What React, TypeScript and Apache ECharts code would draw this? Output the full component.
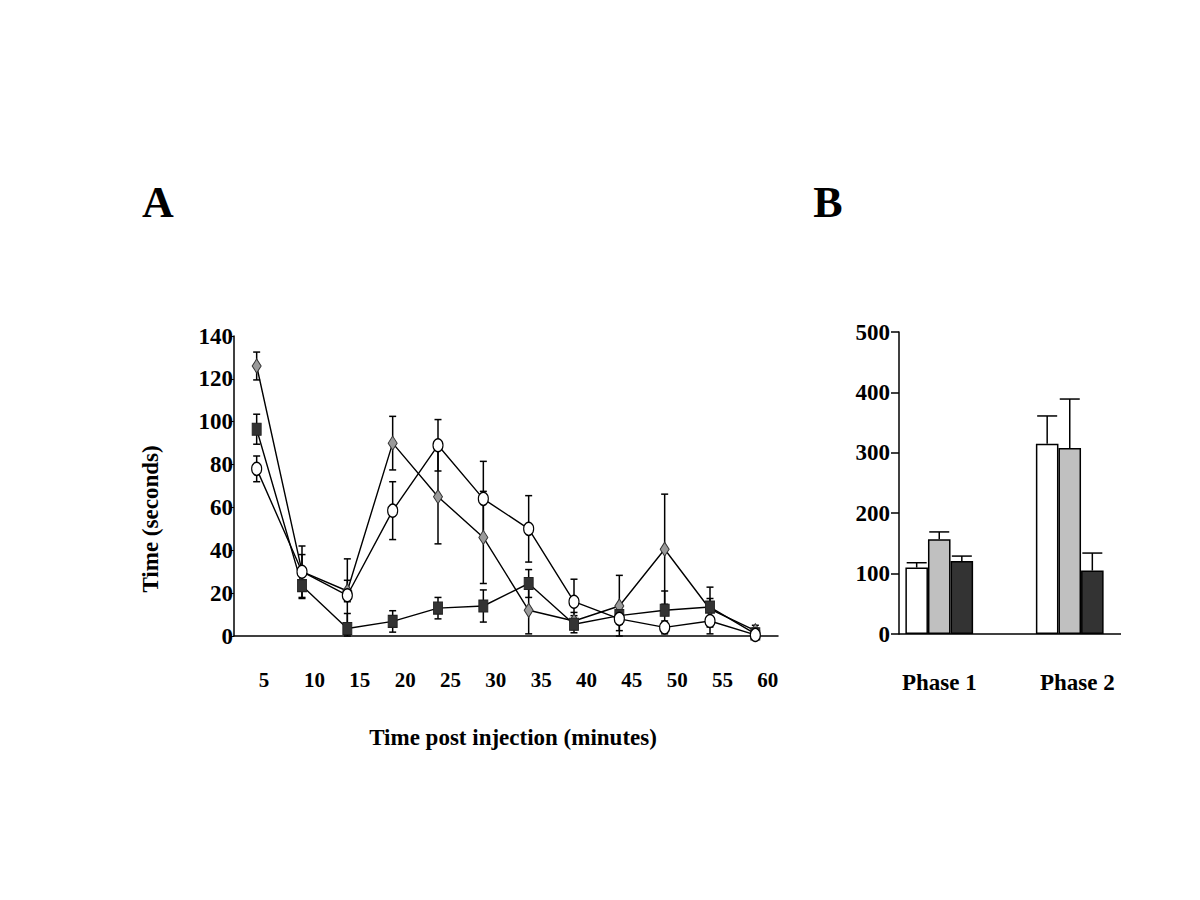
import React, { useEffect, useRef } from "react";
import * as echarts from "echarts";

// ---------- Panel A data ----------
const timePoints = ["5", "10", "15", "20", "25", "30", "35", "40", "45", "50", "55", "60"];
const circleMean = [78, 30, 19, 58.5, 89, 64, 50, 16, 8, 4, 7, 0.5];
const circleErr = [6, 12, 17, 13.5, 12, 17.5, 15.5, 10.5, 5.5, 3, 6, 1];
const diamondMean = [126, 30, 21, 90, 65, 46, 12, 7, 14, 40.5, 12.5, 2.5];
const diamondErr = [6.5, 8, 5, 12.5, 22, 21.5, 11, 4, 14.3, 25.7, 5, 2.5];
const squareMean = [96.5, 23.5, 3.5, 6.8, 13, 14, 24.5, 5.5, 9.5, 12, 13.5, 1];
const squareErr = [7, 6, 7, 5, 5, 7.5, 6.5, 4, 4, 9, 9.3, 1];
const yTicksA = { min: 0, max: 140, interval: 20 };

// ---------- Panel B data ----------
const phases = ["Phase 1", "Phase 2"];
const whiteMean = [110, 315];
const whiteErr = [8, 46];
const greyMean = [157, 308];
const greyErr = [12, 81];
const blackMean = [121, 105];
const blackErr = [8, 29];
const yTicksB = { min: 0, max: 500, interval: 100 };

const FONT = "Liberation Serif";
const BAR_FRAC = 0.173;

function errorBarsA(name: string, mean: number[], err: number[]) {
  return {
    type: "custom",
    name: name + " SEM",
    xAxisIndex: 0,
    yAxisIndex: 0,
    z: 1,
    silent: true,
    encode: { x: 0, y: 1 },
    data: timePoints.map((_, i) => [i, mean[i], err[i]]),
    renderItem: (params: any, api: any) => {
      const x = api.value(0);
      const m = api.value(1);
      const e = api.value(2);
      const top = api.coord([x, m + e]);
      const bot = api.coord([x, Math.max(0, m - e)]);
      const hw = 3.5;
      const st = { stroke: "#000", lineWidth: 1.5 };
      return {
        type: "group",
        children: [
          { type: "line", shape: { x1: top[0], y1: top[1], x2: bot[0], y2: bot[1] }, style: st },
          { type: "line", shape: { x1: top[0] - hw, y1: top[1], x2: top[0] + hw, y2: top[1] }, style: st },
          { type: "line", shape: { x1: bot[0] - hw, y1: bot[1], x2: bot[0] + hw, y2: bot[1] }, style: st },
        ],
      };
    },
  };
}

function errorBarsB(name: string, mean: number[], err: number[], k: number) {
  return {
    type: "custom",
    name: name + " SEM",
    xAxisIndex: 1,
    yAxisIndex: 1,
    z: 1,
    silent: true,
    encode: { x: 0, y: 1 },
    data: phases.map((_, i) => [i, mean[i], err[i]]),
    renderItem: (params: any, api: any) => {
      const x = api.value(0);
      const m = api.value(1);
      const e = api.value(2);
      const band = api.size([1, 0])[0];
      const off = (k - 1) * band * BAR_FRAC;
      const top = api.coord([x, m + e]);
      const base = api.coord([x, m]);
      const hw = 10;
      const st = { stroke: "#000", lineWidth: 1.5 };
      const cx = top[0] + off;
      return {
        type: "group",
        children: [
          { type: "line", shape: { x1: cx, y1: top[1], x2: cx, y2: base[1] }, style: st },
          { type: "line", shape: { x1: cx - hw, y1: top[1], x2: cx + hw, y2: top[1] }, style: st },
        ],
      };
    },
  };
}

export default function App() {
  const ref = useRef<HTMLDivElement>(null);

  useEffect(() => {
    if (!ref.current) return;
    const chart = echarts.init(ref.current, null, { renderer: "svg" });
    const labelFont = { fontFamily: FONT, fontWeight: "bold", color: "#000" };
    const lineStyle = { color: "#000", width: 1.4 };

    const option: any = {
      animation: false,
      backgroundColor: "#fff",
      grid: [
        { left: 234, top: 336, width: 544, height: 300 },
        { left: 874, top: 332, width: 261, height: 302 },
      ],
      xAxis: [
        {
          type: "category",
          gridIndex: 0,
          data: timePoints,
          boundaryGap: true,
          axisLine: { lineStyle: { color: "#000", width: 1.5 } },
          axisTick: { alignWithLabel: true, length: 5, lineStyle: { color: "#000", width: 1.2 } },
          axisLabel: { ...labelFont, fontSize: 21, interval: 0, margin: 33, align: "left", padding: [0, 0, 0, 2] },
        },
        {
          type: "category",
          gridIndex: 1,
          data: phases,
          axisLine: { show: false },
          axisTick: { show: false },
          axisLabel: {
            ...labelFont,
            fontSize: 23,
            margin: 37,
            interval: 0,
            hideOverlap: false,
            formatter: (v: string, i: number) => (i === 1 ? "{b|" + v + "}" : "{a|" + v + "}"),
            rich: {
              a: { ...labelFont, fontSize: 23 },
              b: { ...labelFont, fontSize: 23, padding: [0, 0, 0, 15] },
            },
          },
        },
      ],
      yAxis: [
        {
          type: "value",
          gridIndex: 0,
          ...yTicksA,
          splitLine: { show: false },
          axisLine: { show: true, lineStyle: { color: "#000", width: 1.5 } },
          axisTick: { show: true, length: 4, lineStyle: { color: "#000" } },
          axisLabel: { ...labelFont, fontSize: 23, margin: 1 },
        },
        {
          type: "value",
          gridIndex: 1,
          offset: -25,
          ...yTicksB,
          splitLine: { show: false },
          axisLine: { show: true, lineStyle: { color: "#000", width: 1.5 } },
          axisTick: { show: true, length: 8, lineStyle: { color: "#000", width: 1.5 } },
          axisLabel: { ...labelFont, fontSize: 23, margin: 9 },
        },
      ],
      series: [
        errorBarsA("Diamond", diamondMean, diamondErr),
        errorBarsA("Square", squareMean, squareErr),
        errorBarsA("Circle", circleMean, circleErr),
        {
          type: "line",
          name: "Diamond",
          xAxisIndex: 0,
          yAxisIndex: 0,
          z: 3,
          data: diamondMean,
          symbol: "diamond",
          symbolSize: [9, 14],
          lineStyle,
          itemStyle: { color: "#9a9a9a", borderColor: "#333", borderWidth: 1 },
        },
        {
          type: "line",
          name: "Square",
          xAxisIndex: 0,
          yAxisIndex: 0,
          z: 4,
          data: squareMean,
          symbol: "rect",
          symbolSize: [9, 12],
          lineStyle,
          itemStyle: { color: "#333", borderColor: "#222", borderWidth: 1 },
        },
        {
          type: "line",
          name: "Circle",
          xAxisIndex: 0,
          yAxisIndex: 0,
          z: 5,
          data: circleMean,
          symbol: "circle",
          symbolSize: [10, 13],
          lineStyle,
          itemStyle: { color: "#fff", borderColor: "#000", borderWidth: 1.3 },
        },
        {
          type: "bar",
          name: "White",
          xAxisIndex: 1,
          yAxisIndex: 1,
          z: 2,
          data: whiteMean,
          barWidth: BAR_FRAC * 100 + "%",
          barGap: "0%",
          itemStyle: { color: "#fff", borderColor: "#000", borderWidth: 1.5 },
        },
        {
          type: "bar",
          name: "Grey",
          xAxisIndex: 1,
          yAxisIndex: 1,
          z: 2,
          data: greyMean,
          barWidth: BAR_FRAC * 100 + "%",
          barGap: "0%",
          itemStyle: { color: "#c0c0c0", borderColor: "#000", borderWidth: 1.5 },
        },
        {
          type: "bar",
          name: "Black",
          xAxisIndex: 1,
          yAxisIndex: 1,
          z: 2,
          data: blackMean,
          barWidth: BAR_FRAC * 100 + "%",
          barGap: "0%",
          itemStyle: { color: "#333", borderColor: "#000", borderWidth: 1.5 },
        },
        errorBarsB("White", whiteMean, whiteErr, 0),
        errorBarsB("Grey", greyMean, greyErr, 1),
        errorBarsB("Black", blackMean, blackErr, 2),
      ],
      graphic: [
        {
          type: "line",
          shape: { x1: 899, y1: 634, x2: 1121, y2: 634 },
          style: { stroke: "#000", lineWidth: 1.5 },
          z: 10,
        },
        {
          type: "text",
          x: 158,
          y: 202,
          style: { text: "A", font: "bold 44px 'Liberation Serif'", fill: "#000", align: "center", verticalAlign: "middle" },
        },
        {
          type: "text",
          x: 828,
          y: 202,
          style: { text: "B", font: "bold 44px 'Liberation Serif'", fill: "#000", align: "center", verticalAlign: "middle" },
        },
        {
          type: "text",
          x: 513,
          y: 737,
          style: {
            text: "Time post injection (minutes)",
            font: "bold 23px 'Liberation Serif'",
            fill: "#000",
            align: "center",
            verticalAlign: "middle",
          },
        },
        {
          type: "text",
          x: 150,
          y: 519,
          rotation: Math.PI / 2,
          style: {
            text: "Time (seconds)",
            font: "bold 23px 'Liberation Serif'",
            fill: "#000",
            align: "center",
            verticalAlign: "middle",
          },
        },
      ],
    };

    chart.setOption(option);
    return () => chart.dispose();
  }, []);

  return (
    <div
      ref={ref}
      style={{ position: "absolute", left: 0, top: 0, width: 1200, height: 900, background: "#fff" }}
    />
  );
}
